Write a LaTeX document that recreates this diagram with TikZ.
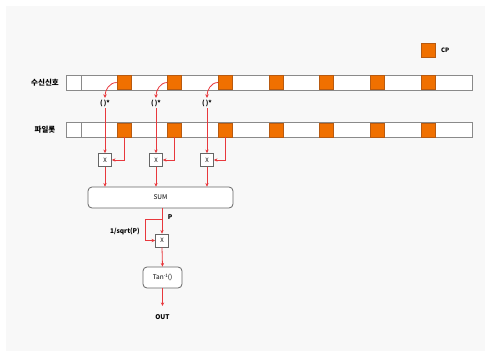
\documentclass[tikz,border=0pt]{standalone}
\usepackage{fontspec}
\setmainfont{Noto Sans CJK KR}
\usetikzlibrary{arrows.meta}
\definecolor{sigred}{HTML}{E8383D}
\definecolor{cporange}{HTML}{F07000}
\definecolor{cpedge}{HTML}{B85A10}
\definecolor{boxedge}{HTML}{8A8A8A}
\definecolor{opedge}{HTML}{666666}
\definecolor{panel}{HTML}{F8F8F8}
\tikzset{
  sig/.style={draw=sigred, line width=0.8pt},
  sigarrow/.style={sig, -{Stealth[length=3.6pt,width=3.4pt]}},
  symbolbar/.style={draw=boxedge, fill=white, line width=0.6pt, minimum width=406pt, minimum height=15pt, inner sep=0pt},
  cpbox/.style={draw=cpedge, fill=cporange, line width=0.5pt, minimum size=14pt, inner sep=0pt},
  mulbox/.style={draw=opedge, fill=white, line width=0.8pt, minimum size=13pt, inner sep=0pt, font=\fontsize{6}{7}\selectfont},
  opbox/.style={draw=opedge, fill=white, line width=0.8pt, rounded corners=4pt, inner sep=0pt, font=\fontsize{6.5}{8}\selectfont},
  lbl/.style={font=\fontsize{7.5}{9}\selectfont\bfseries, inner sep=0pt},
  conj/.style={font=\fontsize{6.5}{8}\selectfont\bfseries, inner sep=1.5pt},
}
\begin{document}
\begin{tikzpicture}[x=1pt, y=-1pt]
  % page and panel
  \fill[white] (0,0) rectangle (491,357);
  \fill[panel] (6,6) rectangle (485,351);
  \useasboundingbox (0,0) rectangle (491,357);

  % legend
  \node[cpbox] (leg) at (428,50) {};
  \node[lbl, anchor=west, font=\fontsize{6}{7}\selectfont\bfseries] (legtxt) at (441,50) {CP};

  % row labels
  \node[lbl] (rxlbl) at (45,83) {수신신호};
  \node[lbl] (pilbl) at (45,130) {파일롯};

  % symbol bars
  \node[symbolbar] (rxbar) at (269,82.5) {};
  \node[symbolbar] (pibar) at (269,130) {};
  \draw[boxedge, line width=0.6pt] (81,75) -- (81,90);
  \draw[boxedge, line width=0.6pt] (81,122.5) -- (81,137.5);

  % cyclic prefix blocks
  \foreach \i in {1,...,7} {
    \node[cpbox] (r\i) at ({124+(\i-1)*50.67},82.5) {};
    \node[cpbox] (p\i) at ({124+(\i-1)*50.67},130) {};
  }

  % conjugation and multiplication per branch
  \foreach \i/\x in {1/105,2/156,3/207} {
    \node[conj] (c\i) at (\x,103) {(\,)*};
    \node[mulbox] (m\i) at (\x,160) {X};
    \draw[sigarrow] (r\i.west) to[out=180, in=90] (c\i.north);
    \draw[sigarrow] (c\i.south) -- (m\i.north);
    \draw[sigarrow] (p\i.south) |- (m\i.east);
  }

  % summation
  \node[opbox, minimum width=145pt, minimum height=21pt] (sum) at (160.5,197.5) {SUM};
  \foreach \i in {1,2,3}
    \draw[sigarrow] (m\i.south) -- (m\i |- sum.north);

  % normalisation
  \node[mulbox] (mn) at (162,240.5) {X};
  \coordinate (ptap) at (162,219);
  \draw[sigarrow] (mn |- sum.south) -- (mn.north);
  \draw[sigarrow] (ptap) -- ++(-17,0) |- (mn.west);
  \node[lbl, font=\fontsize{6.5}{8}\selectfont\bfseries] (plbl) at (170,217) {P};
  \node[lbl, font=\fontsize{6.5}{8}\selectfont\bfseries] (nlbl) at (125,231) {1/sqrt(P)};

  % arctangent and output
  \node[opbox, minimum width=39pt, minimum height=21pt] (tan) at (162.5,277.5)
    {Tan\raisebox{0.7ex}{\fontsize{4.5}{5}\selectfont -1}()};
  \draw[sigarrow] (mn.south) -- (tan.north);
  \coordinate (outend) at (162.5,306);
  \draw[sigarrow] (tan.south) -- (outend);
  \node[lbl, font=\fontsize{6.5}{8}\selectfont\bfseries] (out) at (162.5,317) {OUT};
\end{tikzpicture}
\end{document}
